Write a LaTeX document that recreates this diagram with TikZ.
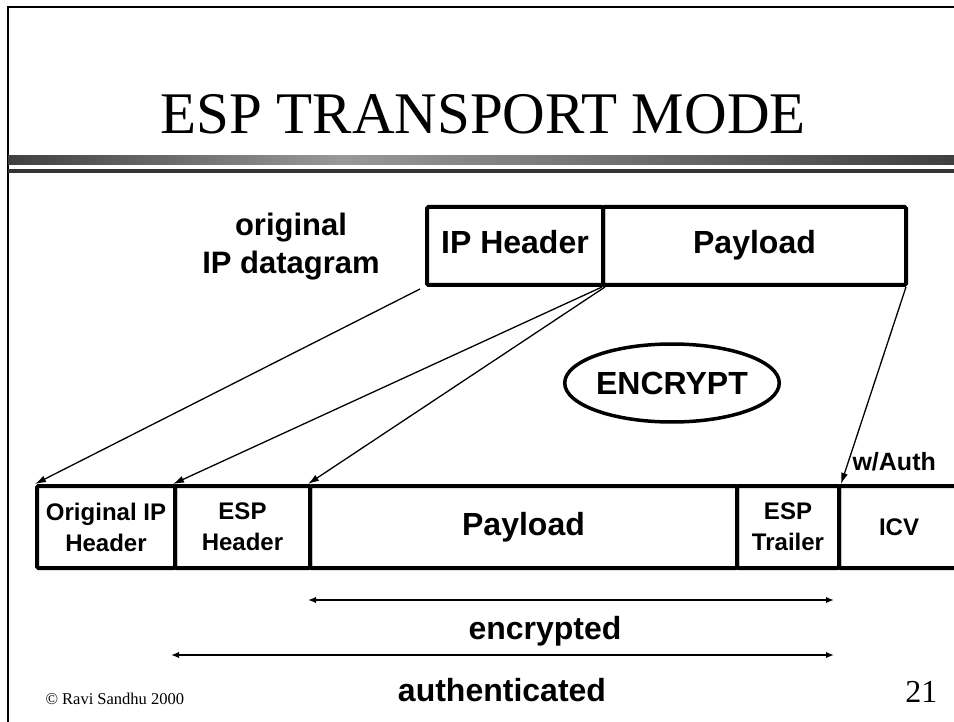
\documentclass[tikz,border=0pt]{standalone}
\usepackage{fontspec}
\setmainfont{Liberation Serif}
\setsansfont{Liberation Sans}
\usetikzlibrary{arrows.meta,shapes.geometric}
\begin{document}
\begin{tikzpicture}[x=1pt,y=-1pt,
  lbl/.style={font=\sffamily\bfseries\fontsize{32}{37}\selectfont, align=center},
  sml/.style={font=\sffamily\bfseries\fontsize{24}{31}\selectfont, align=center},
  cell/.style={draw, line width=4pt, rounded corners=1.5pt, inner sep=0pt, anchor=north west},
  topcell/.style={cell, lbl, minimum height=78pt, text height=23pt, text depth=7pt},
  botcell/.style={cell, minimum height=82pt},
  conn/.style={line width=1.3pt, -{Latex[length=11pt,width=7pt]}},
  spanarrow/.style={line width=1.6pt, {Latex[length=8pt,width=6.5pt]}-{Latex[length=8pt,width=6.5pt]}},
  frame/.style={line width=2.5pt}]
\useasboundingbox (0,0) rectangle (954,722);
% frame
\draw[frame] (954,7) -- (8,7) -- (8,722);
% title
\node[font=\fontsize{59}{66}\selectfont, anchor=base] (title) at (483,134) {ESP TRANSPORT MODE};
% title rule
\shade[left color=black!75, right color=black!40] (8,156) rectangle (340,165);
\shade[left color=black!40, right color=black!75] (340,156) rectangle (954,165);
\fill[black!80] (8,169) rectangle (954,173);
% top datagram
\node[topcell, minimum width=176pt] (iph) at (425,205) {IP Header};
\node[topcell, minimum width=303pt] (pay) at (601,205) {Payload};
\node[lbl, font=\sffamily\bfseries\fontsize{31}{38}\selectfont] (orig) at (291,247) {original\\IP datagram};
% encrypt
\node[draw, ellipse, line width=3.5pt, minimum width=196pt, minimum height=78pt, lbl, inner sep=0pt] (enc) at (672,383) {ENCRYPT};
% bottom packet
\node[botcell, sml, minimum width=138pt] (oip) at (35,484) {Original IP\\Header};
\node[botcell, sml, minimum width=135pt] (esph) at (173,484) {ESP\\Header};
\node[botcell, lbl, minimum width=427pt] (bpay) at (308,484) {Payload};
\node[botcell, sml, minimum width=102pt] (trl) at (735,484) {ESP\\Trailer};
\node[botcell, sml, minimum width=120pt] (icv) at (837,484) {ICV};
\node[sml, font=\sffamily\bfseries\fontsize{25}{30}\selectfont, anchor=west] (auth) at (849,462) {w/Auth};
% connectors
\draw[conn] ([xshift=-5pt,yshift=-2pt]iph.south west) -- (oip.north west);
\draw[conn] ([xshift=-3pt]iph.south east) -- (esph.north west);
\draw[conn] (iph.south east) -- (bpay.north west);
\draw[conn] ([xshift=-2pt]pay.south east) -- (trl.north east);
% spans
\coordinate (e1) at (308,600);
\coordinate (e2) at (834,600);
\coordinate (a1) at (171,655);
\coordinate (a2) at (834,655);
\draw[spanarrow] (e1) -- (e2);
\draw[spanarrow] (a1) -- (a2);
\node[lbl, anchor=base] (encl) at (545,639) {encrypted};
\node[lbl, anchor=base] (authl) at (502,701) {authenticated};
% footer
\node[font=\fontsize{16.5}{19}\selectfont, anchor=base west] (copy) at (42,704) {© Ravi Sandhu 2000};
\node[font=\fontsize{32}{36}\selectfont, anchor=base east] (pg) at (941,702) {21};
\end{tikzpicture}
\end{document}
